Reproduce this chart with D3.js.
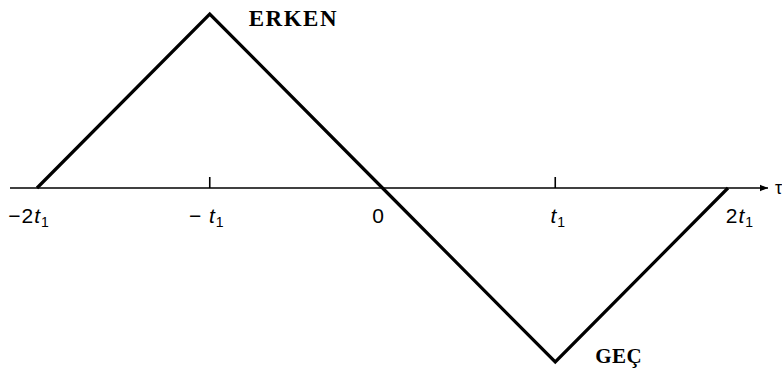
<!DOCTYPE html>
<html>
<head>
<meta charset="utf-8">
<script src="https://cdn.jsdelivr.net/npm/d3@7"></script>
<style>
  body { margin: 0; background: #fff; }
  svg { display: block; }
</style>
</head>
<body>
<div id="chart"></div>
<script>
// Triangle wave: ERKEN (early) peak, GEÇ (late) trough
const tValues = [-2, -1, 0, 1, 2];
const yValues = [0, 1, 0, -1, 0];
const tickValues = [-2, -1, 0, 1, 2];
const tickLabels = [['−2', 't', '1'], ['− ', 't', '1'], ['0', '', ''], ['', 't', '1'], ['2', 't', '1']];
const tickMarks = [-1, 1];

const width = 782;
const height = 376;

const svg = d3.select('#chart').append('svg')
    .attr('width', width)
    .attr('height', height);

const x = d3.scaleLinear().domain([-2, 2]).range([37, 728]);
const y = d3.scaleLinear().domain([-1, 1]).range([362, 14]);

const data = tValues.map((t, i) => ({ t: t, v: yValues[i] }));

// Arrow marker
svg.append('defs').append('marker')
    .attr('id', 'arrow')
    .attr('viewBox', '0 0 10 10')
    .attr('refX', 10)
    .attr('refY', 5)
    .attr('markerWidth', 14)
    .attr('markerHeight', 8)
    .attr('markerUnits', 'userSpaceOnUse')
    .attr('orient', 'auto')
    .append('path')
    .attr('d', 'M0,1 L10,5 L0,9 Z')
    .attr('fill', '#000');

// Horizontal axis
svg.append('line')
    .attr('x1', 10)
    .attr('x2', 768)
    .attr('y1', y(0))
    .attr('y2', y(0))
    .attr('stroke', '#000')
    .attr('stroke-width', 1.6)
    .attr('marker-end', 'url(#arrow)');

svg.append('text')
    .attr('x', 775)
    .attr('y', y(0) + 6)
    .style('font-family', '"Liberation Sans", Arial, sans-serif')
    .style('font-size', '18px')
    .text('τ');

// Tick marks (upwards)
svg.selectAll('.tick-mark')
    .data(tickMarks)
    .enter().append('line')
    .attr('class', 'tick-mark')
    .attr('x1', d => x(d))
    .attr('x2', d => x(d))
    .attr('y1', y(0))
    .attr('y2', y(0) - 11)
    .attr('stroke', '#000')
    .attr('stroke-width', 1.6);

// Tick labels
const labelOffsets = [-8, -3, -4, 3, 12];
const labels = svg.selectAll('.tick-label')
    .data(tickValues)
    .enter().append('text')
    .attr('class', 'tick-label')
    .attr('x', (d, i) => x(d) + labelOffsets[i])
    .attr('y', y(0) + 35)
    .attr('text-anchor', 'middle')
    .style('font-family', '"Liberation Sans", Arial, sans-serif')
    .style('font-size', '21px')
    .style('letter-spacing', '1px')
    .style('white-space', 'pre')
    .style('fill', '#000');

labels.each(function(d, i) {
    const parts = tickLabels[i];
    const el = d3.select(this);
    if (parts[0]) el.append('tspan').text(parts[0]);
    if (parts[1]) {
        el.append('tspan').style('font-style', 'italic').text(parts[1]);
        el.append('tspan').attr('dy', 4).style('font-size', '14px').text(parts[2]);
    }
});

// Triangle wave
const line = d3.line()
    .x(d => x(d.t))
    .y(d => y(d.v));

svg.append('path')
    .datum(data)
    .attr('d', line)
    .attr('fill', 'none')
    .attr('stroke', '#000')
    .attr('stroke-width', 3.2)
    .attr('stroke-linejoin', 'miter');

// Annotations
svg.append('text')
    .attr('x', x(-1) + 39)
    .attr('y', 26)
    .style('font-family', '"Liberation Serif", "Times New Roman", serif')
    .style('font-weight', 'bold')
    .style('font-size', '23px')
    .style('letter-spacing', '1.5px')
    .text('ERKEN');

svg.append('text')
    .attr('x', x(1) + 40)
    .attr('y', 363)
    .style('font-family', '"Liberation Serif", "Times New Roman", serif')
    .style('font-weight', 'bold')
    .style('font-size', '21px')
    .style('letter-spacing', '0.5px')
    .text('GEÇ');
</script>
</body>
</html>
